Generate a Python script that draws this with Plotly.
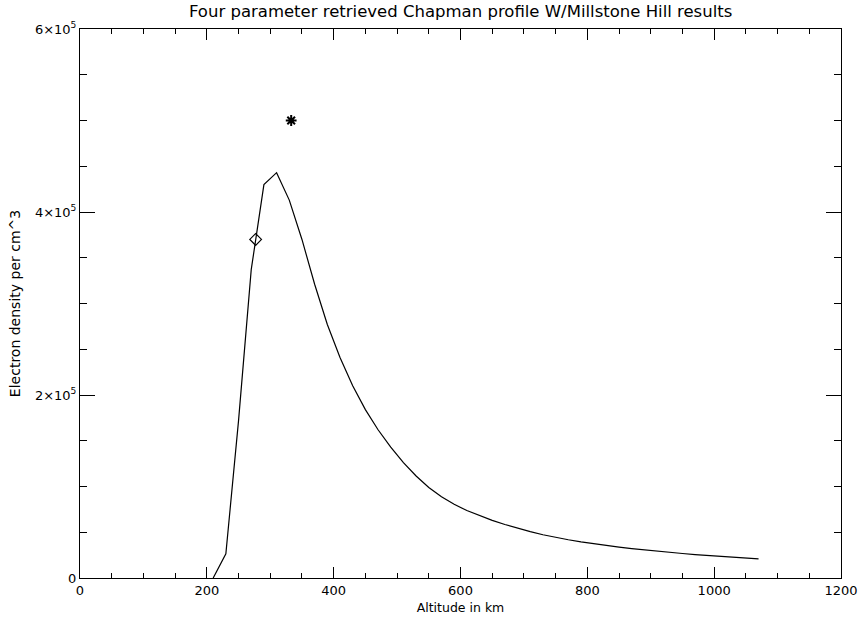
import plotly.graph_objects as go

# Retrieved Chapman profile (altitude km, electron density per cm^3)
altitude_km = [210, 230, 250, 270, 290, 310, 330, 350, 370, 390,
               410, 430, 450, 470, 490, 510, 530, 550, 570, 590,
               610, 630, 650, 670, 690, 710, 730, 750, 770, 790,
               810, 830, 850, 870, 890, 910, 930, 950, 970, 990,
               1010, 1030, 1050, 1070]
density = [0, 26500, 172000, 337000, 430000, 443000, 413000, 370000, 321000, 277000,
           241000, 210000, 184000, 162000, 143000, 126000, 111500, 99000, 88800, 80600,
           73700, 68000, 63000, 58500, 54400, 50700, 47300, 44400, 41800, 39500,
           37400, 35500, 33800, 32200, 30700, 29300, 28000, 26800, 25600, 24500,
           23500, 22600, 21700, 20900]

# Millstone Hill results
diamond_alt = [277]
diamond_val = [370000]
star_alt = [333]
star_val = [500000]

x_tickvals = [0, 200, 400, 600, 800, 1000, 1200]
x_ticktext = ["0", "200", "400", "600", "800", "1000", "1200"]
y_tickvals = [0, 200000, 400000, 600000]
y_ticktext = ["0", "2×10<sup>5</sup>", "4×10<sup>5</sup>", "6×10<sup>5</sup>"]

FONT = "DejaVu Sans"

fig = go.Figure()
fig.add_trace(go.Scatter(x=altitude_km, y=density, mode="lines",
                         line=dict(color="black", width=1.2), showlegend=False))
fig.add_trace(go.Scatter(x=diamond_alt, y=diamond_val, mode="markers",
                         marker=dict(symbol="diamond-open", size=9, color="black",
                                     line=dict(width=1.2, color="black")),
                         showlegend=False))
fig.add_trace(go.Scatter(x=star_alt, y=star_val, mode="markers",
                         marker=dict(symbol="asterisk-open", size=9, color="black",
                                     line=dict(width=2, color="black")),
                         showlegend=False))

fig.update_layout(
    width=861, height=623,
    margin=dict(l=80, r=20, t=29, b=45),
    paper_bgcolor="white", plot_bgcolor="white",
    font=dict(family=FONT, size=13, color="black"),
    title=dict(text="Four parameter retrieved Chapman profile W/Millstone Hill results",
               x=0.535, xanchor="center", y=0.982, yanchor="middle",
               font=dict(family=FONT, size=16.5, color="black")),
    xaxis=dict(range=[0, 1200], tickvals=x_tickvals, ticktext=x_ticktext,
               automargin=False,
               showgrid=False, zeroline=False, showline=True, linecolor="black",
               linewidth=1, mirror="ticks", ticks="inside", ticklen=11,
               tickcolor="black", tickwidth=1, tickfont=dict(size=13),
               minor=dict(dtick=50, tick0=0, ticks="inside", ticklen=5,
                          tickcolor="black", tickwidth=1, showgrid=False),
               title=dict(text="Altitude in km", standoff=6,
                          font=dict(family=FONT, size=12.5))),
    yaxis=dict(range=[0, 600000], tickvals=y_tickvals, ticktext=y_ticktext,
               automargin=False,
               showgrid=False, zeroline=False, showline=True, linecolor="black",
               linewidth=1, mirror="ticks", ticks="inside", ticklen=15,
               tickcolor="black", tickwidth=1, tickfont=dict(size=13),
               minor=dict(dtick=50000, tick0=0, ticks="inside", ticklen=7,
                          tickcolor="black", tickwidth=1, showgrid=False),
               title=dict(text="Electron density per cm^3", standoff=10,
                          font=dict(family=FONT, size=14))),
)

fig.write_html("out.html")
